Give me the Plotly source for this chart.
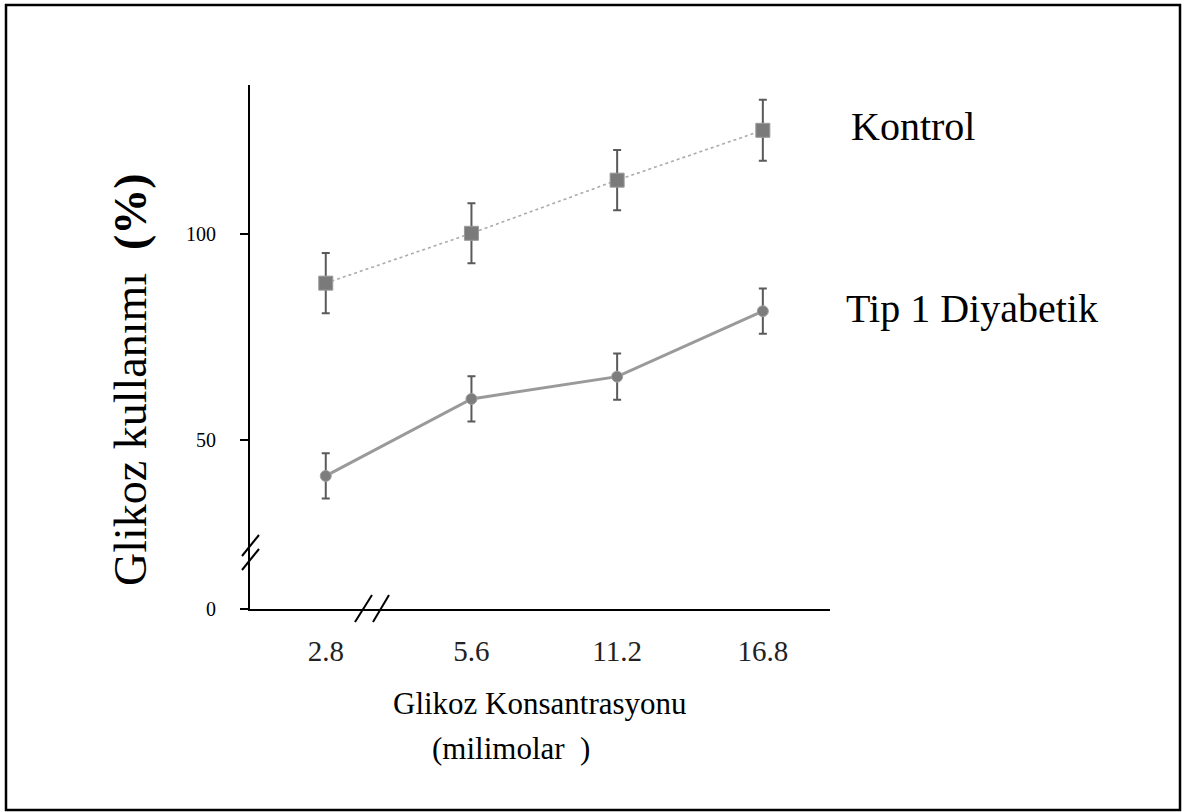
import plotly.graph_objects as go

# ---- data ----
concentrations = ["2.8", "5.6", "11.2", "16.8"]
kontrol_mean = [88.1, 100.2, 113.1, 125.2]
kontrol_err = [7.3, 7.3, 7.3, 7.4]
diyabetik_mean = [41.3, 60.0, 65.4, 81.3]
diyabetik_err = [5.5, 5.5, 5.6, 5.5]
y_tick_labels = ["0", "50", "100"]
series_names = ["Kontrol", "Tip 1 Diyabetik"]

# ---- layout geometry (pixels) ----
W, H = 1183, 812
L, R, T, B = 250, 353, 85, 203
PW, PH = W - L - R, H - T - B
AXIS_FLOOR = 9.0          # value drawn at the (broken) axis origin
Y_TOP = 136.2

def px(x, y):
    return (x - L) / PW, (H - B - y) / PH

FONT = "Liberation Serif, Times New Roman, serif"

fig = go.Figure()
fig.add_trace(go.Scatter(
    x=concentrations, y=kontrol_mean, name=series_names[0],
    mode="lines+markers",
    line=dict(color="#ababab", width=1.6, dash="dot"),
    marker=dict(symbol="square", size=14, color="#7a7a7a",
                line=dict(color="#9a9a9a", width=1)),
    error_y=dict(type="data", array=kontrol_err, color="#5a5a5a",
                 thickness=2, width=4),
))
fig.add_trace(go.Scatter(
    x=concentrations, y=diyabetik_mean, name=series_names[1],
    mode="lines+markers",
    line=dict(color="#9a9a9a", width=3),
    marker=dict(symbol="circle", size=11, color="#7d7d7d",
                line=dict(color="#a0a0a0", width=1)),
    error_y=dict(type="data", array=diyabetik_err, color="#5a5a5a",
                 thickness=2, width=4),
))

shapes = []
# outer border
x0, y0 = px(6, 810)
x1, y1 = px(1180, 5)
shapes.append(dict(type="rect", xref="paper", yref="paper", x0=x0, y0=y0,
                   x1=x1, y1=y1, line=dict(color="black", width=2.5)))
# axis break marks
for (ax, ay, bx, by) in [(242, 556, 259, 535), (242, 570, 259, 549),
                         (355, 622, 372, 595), (373, 622, 389, 595)]:
    a = px(ax, ay)
    b = px(bx, by)
    shapes.append(dict(type="line", xref="paper", yref="paper",
                       x0=a[0], y0=a[1], x1=b[0], y1=b[1],
                       line=dict(color="black", width=2)))

annotations = []
def ann(text, x, y, size, xanchor="center", angle=0):
    p = px(x, y)
    annotations.append(dict(text=text, x=p[0], y=p[1], xref="paper", yref="paper",
                            showarrow=False, xanchor=xanchor, yanchor="middle",
                            textangle=angle,
                            font=dict(family=FONT, size=size, color="black")))

ann(series_names[0], 849, 127, 40, xanchor="left")
ann(series_names[1], 844, 308, 40, xanchor="left")
ann("Glikoz kullanımı  <b>(%)</b>", 130, 380, 46, angle=-90)
ann("Glikoz Konsantrasyonu", 540, 703, 31)
ann("(milimolar  )", 511, 748, 31)

fig.update_layout(
    width=W, height=H,
    margin=dict(l=L, r=R, t=T, b=B, autoexpand=False),
    paper_bgcolor="white", plot_bgcolor="white",
    showlegend=False,
    shapes=shapes, annotations=annotations,
    xaxis=dict(type="category", range=[-0.52, 3.461], showgrid=False,
               zeroline=False, showline=True, linecolor="black", linewidth=2,
               ticks="", ticklabelstandoff=15,
               tickfont=dict(family=FONT, size=29, color="#222")),
    yaxis=dict(range=[AXIS_FLOOR, Y_TOP], showgrid=False, zeroline=False,
               showline=True, linecolor="black", linewidth=2,
               tickvals=[AXIS_FLOOR, 50, 100], ticktext=y_tick_labels,
               ticks="outside", ticklen=8, tickwidth=2, tickcolor="black",
               ticklabelstandoff=20,
               tickfont=dict(family=FONT, size=20, color="black")),
)

fig.write_html("out.html")
